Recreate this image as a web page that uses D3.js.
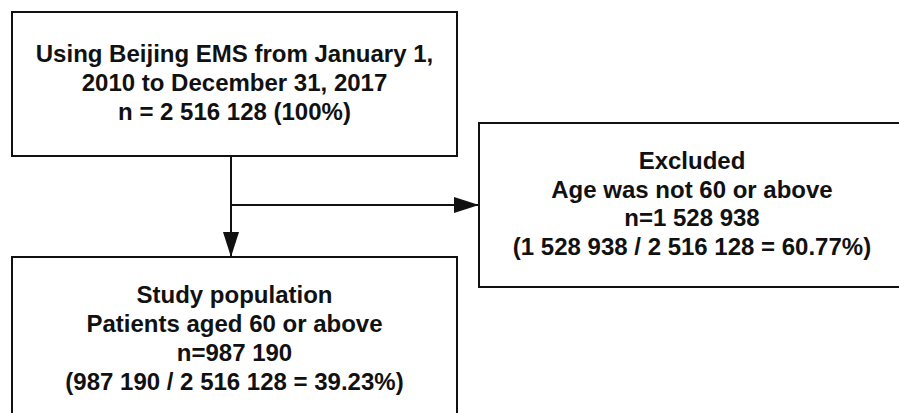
<!DOCTYPE html>
<html>
<head>
<meta charset="utf-8">
<script src="https://cdn.jsdelivr.net/npm/d3@7"></script>
<style>
  html, body { margin: 0; padding: 0; background: #fff; }
  svg { display: block; }
  text { font-family: "Liberation Sans", Arial, sans-serif; font-weight: bold; fill: #111; }
</style>
</head>
<body>
<svg id="chart" width="899" height="413"></svg>
<script>
// ---- data ----
const boxIds = ["source", "excluded", "study"];
const boxTitles = ["Using Beijing EMS from January 1,", "Excluded", "Study population"];
const boxSubtitles = ["2010 to December 31, 2017", "Age was not 60 or above", "Patients aged 60 or above"];
const boxCounts = [2516128, 1528938, 987190];
const boxPercents = ["100%", "60.77%", "39.23%"];

const fmt = n => d3.format(",")(n).replace(/,/g, " ");
const total = boxCounts[0];

const boxLines = [
  [boxTitles[0], boxSubtitles[0], `n = ${fmt(boxCounts[0])} (${boxPercents[0]})`],
  [boxTitles[1], boxSubtitles[1], `n=${fmt(boxCounts[1])}`, `(${fmt(boxCounts[1])} / ${fmt(total)} = ${boxPercents[1]})`],
  [boxTitles[2], boxSubtitles[2], `n=${fmt(boxCounts[2])}`, `(${fmt(boxCounts[2])} / ${fmt(total)} = ${boxPercents[2]})`]
];

// ---- layout ----
const svg = d3.select("#chart");
const layout = {
  source:   { x0: 12,  x1: 457, y0: 12,  y1: 156 },
  excluded: { x0: 479, x1: 905, y0: 123, y1: 287 },
  study:    { x0: 12,  x1: 457, y0: 257, y1: 420 }
};
const lineH = 29;
const fontSize = 24;

const defs = svg.append("defs");
defs.append("marker")
  .attr("id", "arrow")
  .attr("viewBox", "0 0 25 16")
  .attr("refX", 25).attr("refY", 8)
  .attr("markerWidth", 25).attr("markerHeight", 16)
  .attr("markerUnits", "userSpaceOnUse")
  .attr("orient", "auto")
  .append("path").attr("d", "M0,0 L25,8 L0,16 Z").attr("fill", "#111");

// connectors
const trunkX = 231;
const branchY = 205;
svg.append("line")
  .attr("x1", trunkX).attr("y1", layout.source.y1)
  .attr("x2", trunkX).attr("y2", layout.study.y0)
  .attr("stroke", "#111").attr("stroke-width", 2)
  .attr("marker-end", "url(#arrow)");
svg.append("line")
  .attr("x1", trunkX).attr("y1", branchY)
  .attr("x2", layout.excluded.x0).attr("y2", branchY)
  .attr("stroke", "#111").attr("stroke-width", 2)
  .attr("marker-end", "url(#arrow)");

// boxes
const g = svg.selectAll("g.box")
  .data(boxIds.map((id, i) => ({ id, lines: boxLines[i], ...layout[id] })))
  .join("g").attr("class", "box");

g.append("rect")
  .attr("x", d => d.x0).attr("y", d => d.y0)
  .attr("width", d => d.x1 - d.x0).attr("height", d => d.y1 - d.y0)
  .attr("fill", "#fff").attr("stroke", "#111").attr("stroke-width", 2);

const textCenters = { source: 82.5, excluded: 203.5, study: 338 };
const lineSteps = { source: 29, excluded: 28.5, study: 29 };
g.each(function(d) {
  const cx = d.id === "excluded" ? 692 : (d.x0 + d.x1) / 2;
  const n = d.lines.length;
  const cy = textCenters[d.id];
  const step = lineSteps[d.id];
  d3.select(this).selectAll("text")
    .data(d.lines)
    .join("text")
    .attr("x", cx)
    .attr("y", (t, i) => cy + (i - (n - 1) / 2) * step)
    .attr("dy", "0.35em")
    .attr("text-anchor", "middle")
    .attr("font-size", fontSize)
    .text(t => t);
});
</script>
</body>
</html>
